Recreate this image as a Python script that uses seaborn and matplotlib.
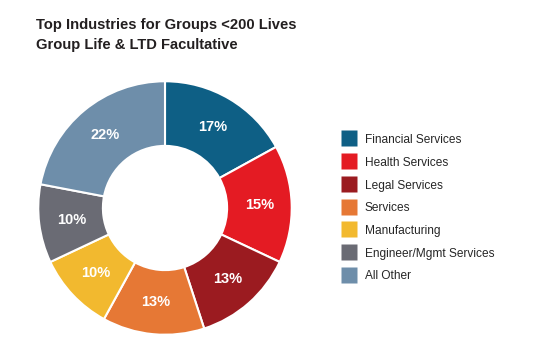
import numpy as np
import seaborn as sns
import matplotlib.pyplot as plt
from matplotlib.lines import Line2D

# Datos del grafico
industrias = ['Financial Services', 'Health Services', 'Legal Services', 'Services',
              'Manufacturing', 'Engineer/Mgmt Services', 'All Other']
porcentajes = [17, 15, 13, 13, 10, 10, 22]
colores = ['#0E5F85', '#E41B23', '#9B1B20', '#E67835', '#F2B92F', '#6A6B74', '#6E8EAA']

sns.set_theme(style='white')
plt.rcParams['font.family'] = ['Liberation Sans', 'DejaVu Sans']

fig = plt.figure(figsize=(5.38, 3.64), dpi=100)

# Dona
ax = fig.add_axes([37 / 538, 28 / 364, 256 / 538, 256 / 364])
wedges, textos, autotextos = ax.pie(
    porcentajes, colors=colores, startangle=90, counterclock=False,
    autopct='%d%%', pctdistance=0.745,
    wedgeprops={'width': 0.51, 'edgecolor': 'white', 'linewidth': 1.5},
    textprops={'color': 'white', 'fontsize': 10.5, 'fontweight': 'bold'})
ax.set_xlim(-1.01, 1.01)
ax.set_ylim(-1.01, 1.01)
ax.set_aspect('equal')

# Titulo
fig.text(36 / 538, 1 - 25 / 364, 'Top Industries for Groups <200 Lives',
         fontsize=10.6, fontweight='bold', color='#231F20', va='center', ha='left')
fig.text(36 / 538, 1 - 45 / 364, 'Group Life & LTD Facultative',
         fontsize=10.6, fontweight='bold', color='#231F20', va='center', ha='left')

# Leyenda con cuadrados
handles = [Line2D([], [], marker='s', linestyle='none', markersize=11.5,
                  markerfacecolor=c, markeredgecolor='none') for c in colores]
fig.legend(handles, industrias, loc='upper left', bbox_to_anchor=(336 / 538, 1 - 129 / 364),
           frameon=False, fontsize=8.6, handlelength=1.4, handleheight=1.0,
           handletextpad=0.6, labelspacing=0.86, borderaxespad=0)

fig.savefig('out.png', dpi=100)
